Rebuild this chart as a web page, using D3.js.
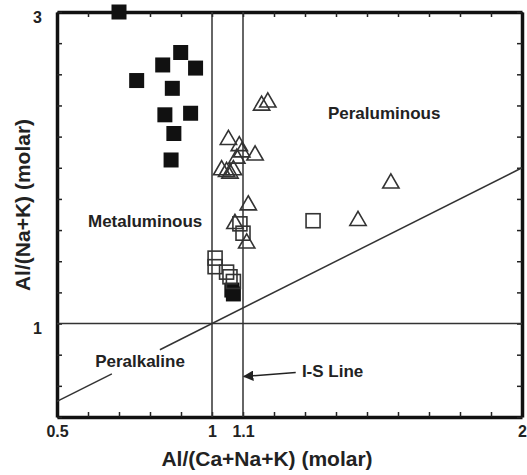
<!DOCTYPE html>
<html>
<head>
<meta charset="utf-8">
<script src="https://cdn.jsdelivr.net/npm/d3@7"></script>
<style>
  body { margin: 0; background: #fff; }
  svg text { font-family: "Liberation Sans", Arial, sans-serif; font-weight: bold; fill: #222; }
</style>
</head>
<body>
<div id="chart"></div>
<script>
// data: [Al/(Ca+Na+K), Al/(Na+K)]
const filledSquares = [
  [0.70, 3.00], [0.899, 2.74], [0.841, 2.66], [0.947, 2.64], [0.757, 2.56],
  [0.872, 2.51], [0.848, 2.34], [0.931, 2.35], [0.877, 2.22], [0.868, 2.05],
  [1.064, 1.215], [1.069, 1.19]
]
const openSquares = [
  [1.326, 1.66], [1.01, 1.42], [1.01, 1.365], [1.047, 1.33], [1.058, 1.30],
  [1.069, 1.27], [1.09, 1.64], [1.10, 1.58]
]
const triangles = [
  [1.16, 2.40], [1.18, 2.42], [1.053, 2.18], [1.088, 2.14], [1.096, 2.10],
  [1.139, 2.08], [1.08, 2.06], [1.031, 1.985], [1.047, 1.974], [1.069, 1.985],
  [1.058, 1.964], [1.117, 1.76], [1.074, 1.64], [1.112, 1.515], [1.471, 1.66],
  [1.577, 1.90]
]
const xTickLabels = [0.5, 1, 1.1, 2]
const yTickLabels = [1, 3]
const verticalLines = [1, 1.1]
const horizontalLines = [1]
const regionLabels = [
  { text: 'Peraluminous', x: 1.374, y: 2.313 },
  { text: 'Metaluminous', x: 0.60, y: 1.62 },
  { text: 'Peralkaline', x: 0.623, y: 0.721 }
]

const dims = { width: 527, height: 475, left: 57, right: 5, top: 12, bottom: 58 }
dims.ctrWidth = dims.width - dims.left - dims.right
dims.ctrHeight = dims.height - dims.top - dims.bottom

const svg = d3.select('#chart').append('svg')
  .attr('width', dims.width)
  .attr('height', dims.height)

const ctr = svg.append('g')
  .attr('transform', `translate(${dims.left},${dims.top})`)

const xScale = d3.scaleLinear().domain([0.5, 2]).range([0, dims.ctrWidth])
const yScale = d3.scaleLinear().domain([0.4, 3]).range([dims.ctrHeight, 0])

const xTicks = d3.range(5, 21).map(d => d / 10)
const yTicks = d3.range(2, 16).map(d => d / 5)
const fmt = list => d => list.some(v => Math.abs(v - d) < 1e-9) ? d3.format('')(d) : ''

// axes, ticks pointing inwards
const axisBottomG = ctr.append('g')
  .attr('transform', `translate(0,${dims.ctrHeight})`)
  .call(d3.axisBottom(xScale).tickValues(xTicks).tickSizeInner(-5).tickSizeOuter(0)
    .tickPadding(9).tickFormat(fmt(xTickLabels)))
const axisTopG = ctr.append('g')
  .call(d3.axisTop(xScale).tickValues(xTicks).tickSizeInner(-5).tickSizeOuter(0).tickFormat(''))
const axisLeftG = ctr.append('g')
  .call(d3.axisLeft(yScale).tickValues(yTicks).tickSizeInner(-5).tickSizeOuter(0)
    .tickPadding(15).tickFormat(fmt(yTickLabels)))
const axisRightG = ctr.append('g')
  .attr('transform', `translate(${dims.ctrWidth},0)`)
  .call(d3.axisRight(yScale).tickValues(yTicks).tickSizeInner(-5).tickSizeOuter(0).tickFormat(''))

;[axisBottomG, axisTopG, axisLeftG, axisRightG].forEach(g => {
  g.select('.domain').attr('stroke', '#111').attr('stroke-width', 3.5)
  g.selectAll('.tick line').attr('stroke', '#222').attr('stroke-width', 1.5)
  g.selectAll('.tick text').style('font-size', '16px').attr('fill', '#222')
})
axisLeftG.selectAll('.tick text').attr('dy', '0.65em')

// reference lines
const lineColor = '#333'
ctr.selectAll('.vline').data(verticalLines).join('line')
  .attr('x1', d => xScale(d)).attr('x2', d => xScale(d))
  .attr('y1', 0).attr('y2', dims.ctrHeight)
  .attr('stroke', lineColor).attr('stroke-width', 1.5)
ctr.selectAll('.hline').data(horizontalLines).join('line')
  .attr('x1', 0).attr('x2', dims.ctrWidth)
  .attr('y1', d => yScale(d)).attr('y2', d => yScale(d))
  .attr('stroke', lineColor).attr('stroke-width', 1.5)

// y = x line, with a gap behind the Peralkaline label
const diag = d3.line().x(d => xScale(d)).y(d => yScale(d))
ctr.append('path').datum([0.5, 0.677]).attr('d', diag)
  .attr('fill', 'none').attr('stroke', lineColor).attr('stroke-width', 1.5)
ctr.append('path').datum([0.832, 2]).attr('d', diag)
  .attr('fill', 'none').attr('stroke', lineColor).attr('stroke-width', 1.5)

// markers
const sq = 15
ctr.selectAll('.fsq').data(filledSquares).join('rect')
  .attr('x', d => xScale(d[0]) - sq / 2).attr('y', d => yScale(d[1]) - sq / 2)
  .attr('width', sq).attr('height', sq)
  .attr('fill', '#111')

const osq = 14
ctr.selectAll('.osq').data(openSquares).join('rect')
  .attr('x', d => xScale(d[0]) - osq / 2).attr('y', d => yScale(d[1]) - osq / 2)
  .attr('width', osq).attr('height', osq)
  .attr('fill', 'none').attr('stroke', '#333').attr('stroke-width', 1.6)

const tri = d3.symbol().type(d3.symbolTriangle).size(115)
ctr.selectAll('.tri').data(triangles).join('path')
  .attr('d', tri)
  .attr('transform', d => `translate(${xScale(d[0])},${yScale(d[1])})`)
  .attr('fill', 'none').attr('stroke', '#333').attr('stroke-width', 1.6)

// region labels
ctr.selectAll('.region').data(regionLabels).join('text')
  .attr('x', d => xScale(d.x)).attr('y', d => yScale(d.y))
  .style('font-size', '17px')
  .text(d => d.text)

// I-S line annotation
svg.append('defs').append('marker')
  .attr('id', 'arrow').attr('viewBox', '0 0 10 10')
  .attr('refX', 9).attr('refY', 5)
  .attr('markerWidth', 7).attr('markerHeight', 7).attr('orient', 'auto')
  .append('path').attr('d', 'M0,0 L10,5 L0,10 Z').attr('fill', '#222')
ctr.append('line')
  .attr('x1', xScale(1.27)).attr('y1', yScale(0.685))
  .attr('x2', xScale(1.103)).attr('y2', yScale(0.66))
  .attr('stroke', '#222').attr('stroke-width', 1.5)
  .attr('marker-end', 'url(#arrow)')
ctr.append('text')
  .attr('x', xScale(1.29)).attr('y', yScale(0.66))
  .style('font-size', '17px')
  .text('I-S Line')

// axis titles
svg.append('text')
  .attr('x', 267).attr('y', 466)
  .attr('text-anchor', 'middle')
  .style('font-size', '21px')
  .text('Al/(Ca+Na+K) (molar)')
svg.append('text')
  .attr('transform', `translate(30,205) rotate(-90)`)
  .attr('text-anchor', 'middle')
  .style('font-size', '21px')
  .text('Al/(Na+K) (molar)')
</script>
</body>
</html>
